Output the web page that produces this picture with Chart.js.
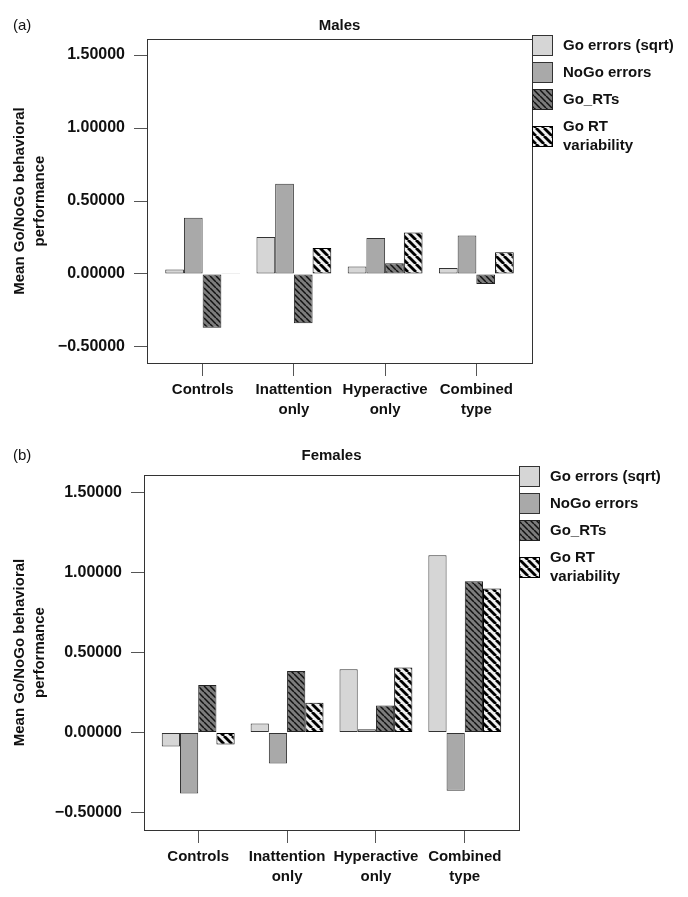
<!DOCTYPE html>
<html>
<head>
<meta charset="utf-8">
<script src="https://cdn.jsdelivr.net/npm/chart.js@4.4.1/dist/chart.umd.min.js"></script>
<style>
  html, body { margin: 0; padding: 0; background: #fff; }
  #wrap { position: relative; width: 688px; height: 897px; }
  canvas { position: absolute; left: 0; }
</style>
</head>
<body>
<div id="wrap">
  <canvas id="males" width="688" height="440" style="top:0"></canvas>
  <canvas id="females" width="688" height="457" style="top:440px"></canvas>
</div>
<script>
const FONT = "'Liberation Sans', Arial, sans-serif";

// data
const CATEGORIES = [['Controls'], ['Inattention', 'only'], ['Hyperactive', 'only'], ['Combined', 'type']];
const SERIES_LABELS = [['Go errors (sqrt)'], ['NoGo errors'], ['Go_RTs'], ['Go RT', 'variability']];
const Y_TICKS = [-0.5, 0, 0.5, 1.0, 1.5];
const Y_TITLE = ['Mean Go/NoGo behavioral', 'performance'];

const MALE_GO_ERRORS = [0.03, 0.253, 0.052, 0.041];
const MALE_NOGO_ERRORS = [0.386, 0.618, 0.247, 0.264];
const MALE_GO_RTS = [-0.368, -0.338, 0.073, -0.068];
const MALE_RT_VAR = [0.005, 0.178, 0.285, 0.148];

const FEMALE_GO_ERRORS = [-0.088, 0.056, 0.396, 1.108];
const FEMALE_NOGO_ERRORS = [-0.381, -0.194, 0.02, -0.365];
const FEMALE_GO_RTS = [0.296, 0.385, 0.169, 0.946];
const FEMALE_RT_VAR = [-0.075, 0.185, 0.406, 0.90];

function stripes(bg, fg, period, width) {
  const c = document.createElement('canvas');
  c.width = period;
  c.height = period;
  const g = c.getContext('2d');
  g.fillStyle = bg;
  g.fillRect(0, 0, period, period);
  g.strokeStyle = fg;
  g.lineWidth = width;
  for (const k of [-period, 0, period]) {
    g.beginPath();
    g.moveTo(k, 0);
    g.lineTo(k + period, period);
    g.stroke();
  }
  return g.createPattern(c, 'repeat');
}

const SERIES_STYLE = [
  { bg: '#d6d6d6', border: '#333' },
  { bg: '#a9a9a9', border: '#333' },
  { bg: stripes('#7c7c7c', '#111', 6, 1.5), border: '#222' },
  { bg: stripes('#f0f0f0', '#000', 8, 2.8), border: '#000' },
];

// frame, title, panel letter and legend
const framePlugin = {
  id: 'frame',
  afterDraw(chart, args, opts) {
    const { ctx, chartArea: a } = chart;
    ctx.save();
    ctx.strokeStyle = '#333';
    ctx.lineWidth = 1;
    ctx.strokeRect(Math.round(a.left) + 0.5, Math.round(a.top) + 0.5,
      Math.round(a.right - a.left), Math.round(a.bottom - a.top));

    ctx.fillStyle = '#111';
    ctx.textBaseline = 'middle';
    ctx.textAlign = 'center';
    ctx.font = `bold 15px ${FONT}`;
    ctx.fillText(opts.title, (a.left + a.right) / 2, opts.titleY);
    ctx.textAlign = 'left';
    ctx.font = `15px ${FONT}`;
    ctx.fillText(opts.panel, 13, opts.titleY);

    let y = a.top + opts.legendTop;
    const x = Math.round(a.right);
    chart.data.datasets.forEach((ds, i) => {
      const lines = SERIES_LABELS[i];
      const n = lines.length;
      const cy = y + 10.5 + (n - 1) * 9.5;
      ctx.fillStyle = ds.backgroundColor;
      ctx.fillRect(x, Math.round(cy - 10.5), 21, 21);
      ctx.strokeStyle = ds.borderColor;
      ctx.strokeRect(x + 0.5, Math.round(cy - 10.5) + 0.5, 20, 20);
      ctx.fillStyle = '#111';
      ctx.font = `bold 15px ${FONT}`;
      lines.forEach((t, j) => ctx.fillText(t, x + 31, cy - (n - 1) * 9.5 + j * 19));
      y += 27 + (n - 1) * 19;
    });
    ctx.restore();
  },
};

function makeChart(id, series, g) {
  return new Chart(document.getElementById(id), {
    type: 'bar',
    data: {
      datasets: series.map((vals, i) => ({
        label: SERIES_LABELS[i].join(' '),
        data: vals.map((v, j) => ({ x: j, y: v })),
        backgroundColor: SERIES_STYLE[i].bg,
        borderColor: SERIES_STYLE[i].border,
        borderWidth: 1,
        borderSkipped: false,
        categoryPercentage: 0.82,
        barPercentage: 1,
      })),
    },
    options: {
      responsive: false,
      animation: false,
      layout: { padding: { top: g.top, right: g.right, left: 0, bottom: 0 } },
      plugins: {
        legend: { display: false },
        tooltip: { enabled: false },
        frame: { title: g.title, panel: g.panel, titleY: g.titleY, legendTop: g.legendTop },
      },
      scales: {
        x: {
          type: 'linear',
          min: -0.61,
          max: 3.61,
          offset: false,
          afterBuildTicks: (s) => { s.ticks = CATEGORIES.map((_, i) => ({ value: i })); },
          afterFit: (s) => { s.height = g.xHeight; },
          grid: { offset: false, drawOnChartArea: false, tickLength: 13, color: '#555' },
          border: { display: false },
          ticks: {
            autoSkip: false,
            maxRotation: 0,
            padding: 4,
            color: '#111',
            font: { family: FONT, size: 15, weight: 'bold', lineHeight: 1.33 },
            callback: (v) => CATEGORIES[v],
          },
        },
        y: {
          min: -0.61,
          max: 1.61,
          afterBuildTicks: (s) => { s.ticks = Y_TICKS.map((v) => ({ value: v })); },
          afterFit: (s) => { s.width = g.yWidth; },
          grid: { drawOnChartArea: false, tickLength: 13, color: '#555' },
          border: { display: false },
          ticks: {
            padding: 9,
            color: '#111',
            font: { family: FONT, size: 16, weight: 'bold' },
            callback: (v) => v.toFixed(5).replace('-', '\u2212'),
          },
          title: {
            display: true,
            text: Y_TITLE,
            color: '#111',
            padding: { top: 10, bottom: 0 },
            font: { family: FONT, size: 15, weight: 'bold', lineHeight: 1.33 },
          },
        },
      },
    },
    plugins: [framePlugin],
  });
}

makeChart('males', [MALE_GO_ERRORS, MALE_NOGO_ERRORS, MALE_GO_RTS, MALE_RT_VAR], {
  title: 'Males', panel: '(a)', titleY: 26, legendTop: -4,
  top: 39, right: 156, yWidth: 147, xHeight: 77,
});

makeChart('females', [FEMALE_GO_ERRORS, FEMALE_NOGO_ERRORS, FEMALE_GO_RTS, FEMALE_RT_VAR], {
  title: 'Females', panel: '(b)', titleY: 16, legendTop: -9,
  top: 35, right: 169, yWidth: 144, xHeight: 67,
});
</script>
</body>
</html>
